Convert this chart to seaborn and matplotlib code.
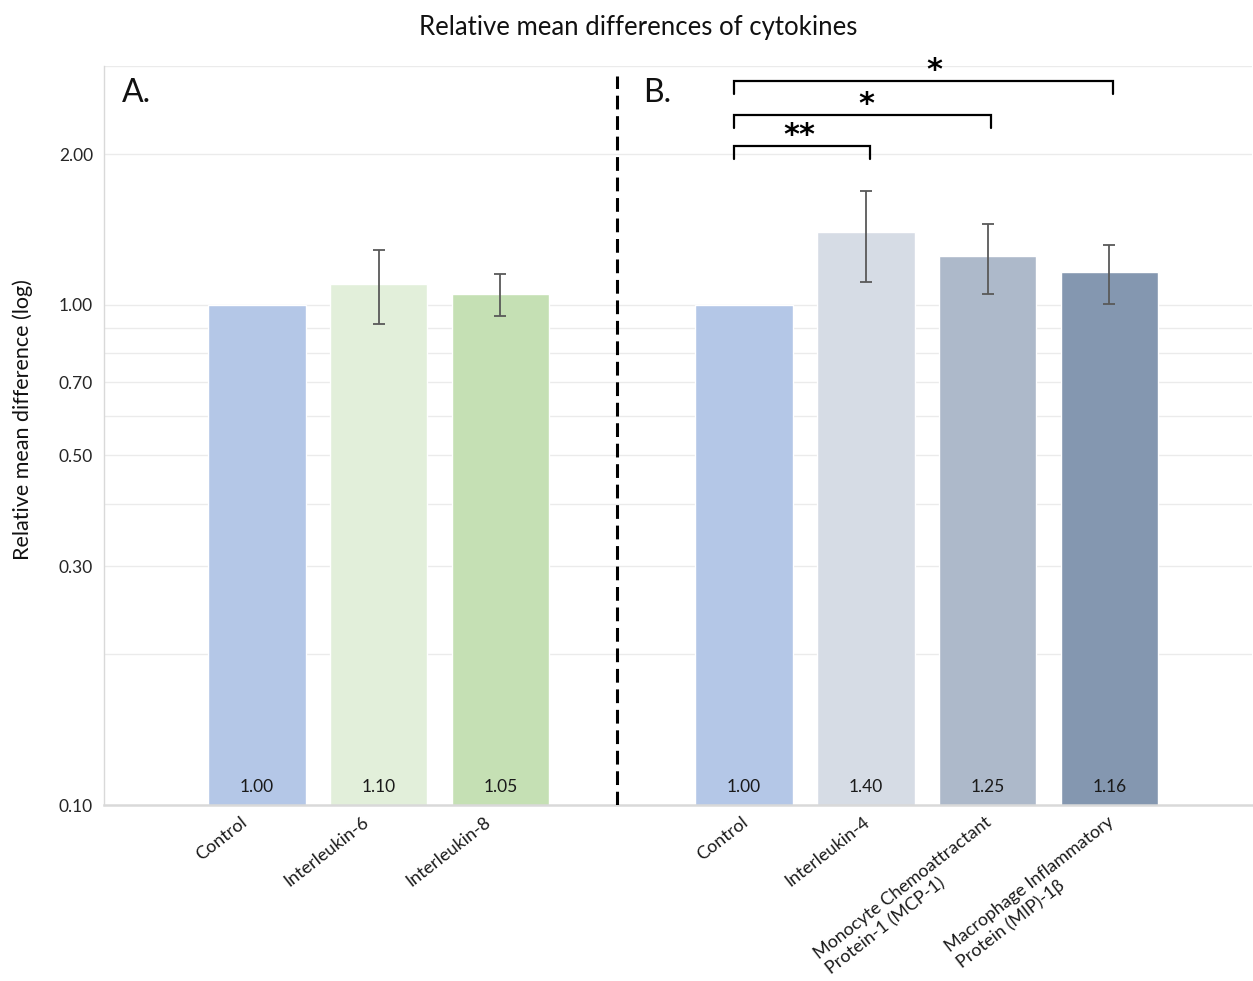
import numpy as np
import pandas as pd
import matplotlib
matplotlib.use("Agg")
import matplotlib.pyplot as plt
import matplotlib.transforms as mtransforms
from matplotlib.ticker import FixedLocator, NullFormatter, FixedFormatter
import seaborn as sns

# ---------------- data ----------------
categories = ["Control A", "Interleukin-6", "Interleukin-8",
              "Control B", "Interleukin-4", "MCP-1", "MIP-1b"]
tick_labels = ["Control", "Interleukin-6", "Interleukin-8",
               "Control", "Interleukin-4",
               "Monocyte Chemoattractant\nProtein-1 (MCP-1)",
               "Macrophage Inflammatory\nProtein (MIP)-1β"]
panel = ["A", "A", "A", "B", "B", "B", "B"]
values = [1.00, 1.10, 1.05, 1.00, 1.40, 1.25, 1.16]
errors = [0.0, 0.185, 0.10, 0.0, 0.29, 0.20, 0.155]
colors = ["#b4c7e7", "#e2efda", "#c5e0b4", "#b4c7e7", "#d6dce5", "#adb9ca", "#8497b0"]
gap = "gap"
order = categories[:3] + [gap] + categories[3:]

y_major = [0.1, 0.3, 0.5, 0.7, 1.0, 2.0]
y_major_labels = ["0.10", "0.30", "0.50", "0.70", "1.00", "2.00"]
y_grid = [0.2, 0.3, 0.4, 0.5, 0.6, 0.7, 0.8, 0.9, 1.0, 2.0, 3.0]

# significance: (from, to, label)
sig = [("Control B", "Interleukin-4", "**"),
       ("Control B", "MCP-1", "*"),
       ("Control B", "MIP-1b", "*")]
sig_levels = [2.077, 2.394, 2.80]
sig_label_x = [4.455, 5.0, 5.56]

df = pd.DataFrame({"cat": categories, "val": values})

sns.set_theme(style="white")
plt.rcParams["font.family"] = ["Lato", "DejaVu Sans"]

fig = plt.figure(figsize=(12.53, 9.81), dpi=100)
ax = fig.add_axes([104 / 1253, 1 - 805 / 981, (1252 - 104) / 1253, (805 - 66) / 981])

pal = dict(zip(categories, colors))
sns.barplot(data=df, x="cat", y="val", hue="cat", order=order, hue_order=categories,
            palette=pal, width=0.8, legend=False, ax=ax, saturation=1, errorbar=None)

pos = {c: order.index(c) for c in categories}
xs = [pos[c] for c in categories]
for x, v, e in zip(xs, values, errors):
    if e > 0:
        ax.errorbar(x, v, yerr=e, color="#595959", lw=1.3, capsize=4, capthick=1.3, zorder=5)

ax.set_yscale("log")
ax.set_ylim(0.1, 3.0)
ax.set_xlim(-1.255, 8.17)

ax.yaxis.set_major_locator(FixedLocator(y_major))
ax.yaxis.set_major_formatter(FixedFormatter(y_major_labels))
ax.yaxis.set_minor_locator(FixedLocator(y_grid))
ax.yaxis.set_minor_formatter(NullFormatter())
ax.grid(False)
for g in y_grid:
    ax.axhline(g, color="#ebebeb", lw=1.0, zorder=0)
ax.set_axisbelow(True)

ax.tick_params(axis="y", which="both", length=0, pad=8, labelsize=12.5, colors="#262626")
ax.tick_params(axis="x", length=0, pad=0)
ax.set_xticks(xs)
ax.set_xticklabels(tick_labels, rotation=38, ha="right", va="top",
                   rotation_mode="anchor", fontsize=13, color="#1a1a1a",
                   multialignment="left", linespacing=1.25)
for lab, p in zip(ax.get_xticklabels(), panel):
    dx = -17 if p == "A" else -3
    off = mtransforms.ScaledTranslation(dx / 100, -9 / 100, fig.dpi_scale_trans)
    lab.set_transform(lab.get_transform() + off)

for s in ["top", "right"]:
    ax.spines[s].set_visible(False)
ax.spines["left"].set_color("#d9d9d9")
ax.spines["left"].set_linewidth(1.0)
ax.spines["bottom"].set_color("#d9d9d9")
ax.spines["bottom"].set_linewidth(1.8)

ax.set_xlabel("")
ax.set_ylabel("Relative mean difference (log)", fontsize=15.5, color="#111111")
ax.yaxis.set_label_coords(-0.062, 0.521)

# value labels near bar bottoms
for x, v in zip(xs, values):
    ax.text(x, 0.1088, f"{v:.2f}", ha="center", va="center", fontsize=12.5, color="#1a1a1a")

# divider
ax.plot([2.96, 2.96], [0.1, 2.865], color="black", lw=2.2, ls=(0, (4.5, 2.2)), zorder=6)

# panel labels
ax.text(-1.105, 2.54, "A.", fontsize=23, ha="left", va="baseline", color="#111111")
ax.text(3.17, 2.54, "B.", fontsize=23, ha="left", va="baseline", color="#111111")

# significance brackets
for (a, b, lab), lev, lx in zip(sig, sig_levels, sig_label_x):
    x0 = pos[a] - 0.08
    x1 = pos[b] + 0.03
    low = lev / 1.062
    ax.plot([x0, x0, x1, x1], [low, lev, lev, low], color="black", lw=1.6,
            solid_joinstyle="miter", zorder=6)
    ax.text(lx, lev * 1.008, lab, ha="center", va="baseline", fontsize=22,
            family="DejaVu Sans", fontweight="bold", color="black")

fig.suptitle("Relative mean differences of cytokines", x=0.509, y=0.985, va="top",
             fontsize=18.5, color="#111111")

fig.savefig("out.png", dpi=100)
